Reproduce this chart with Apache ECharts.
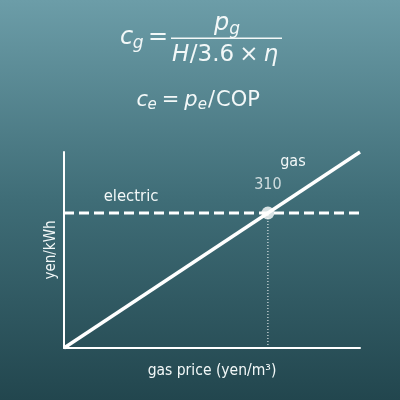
<!DOCTYPE html>
<html><head><meta charset="utf-8">
<script src="https://cdn.jsdelivr.net/npm/echarts@6/dist/echarts.min.js"></script>
<style>html,body{margin:0;padding:0;background:#3d6c76}#c{width:400px;height:400px}</style>
</head><body><div id="c"></div>
<script>
// ---- data ----
const gasPrice = [0, 450];            // yen/m3 (x range of the gas cost line)
const gasCost = [0, 45];              // yen/kWh at those prices
const elecCost = 31;                  // yen/kWh (flat)
const breakEvenPrice = 310;           // yen/m3
const xAxisName = 'gas price (yen/m³)';
const yAxisName = 'yen/kWh';
const seriesNames = ['gas', 'electric'];

const BASE = 'DejaVu Sans';
const W = '#ffffff';
const TXT = '#f3f8f8';

const cv = document.createElement('canvas').getContext('2d');
function mw(font, s) { cv.font = font; return cv.measureText(s).width; }
const hasCond = Math.abs(mw('40px "DejaVu Sans Condensed", monospace', 'electric gas') -
                         mw('40px "DejaVu Sans", monospace', 'electric gas')) > 1 &&
                Math.abs(mw('40px "DejaVu Sans Condensed", monospace', 'electric gas') -
                         mw('40px monospace', 'electric gas')) > 1;
const LF = hasCond ? 'DejaVu Sans Condensed' : BASE;
const LS = hasCond ? 1 : 0.9;   // label size factor

function fontStr(size, it) { return (it ? 'italic ' : '') + size + 'px "' + BASE + '"'; }

// sequential math-like layout: items {s, size, it, dy, pre}
function layout(items, startX, baseline, center) {
  let w = 0;
  items.forEach(o => { w += (o.pre || 0) + mw(fontStr(o.size, o.it), o.s); });
  let x = center ? startX - w / 2 : startX;
  const out = [];
  items.forEach(o => {
    x += (o.pre || 0);
    out.push({type: 'text', x: x, y: baseline + (o.dy || 0) - 0.33 * o.size, silent: true,
      style: {text: o.s, fill: TXT, font: fontStr(o.size, o.it), textAlign: 'left', textVerticalAlign: 'middle'}});
    x += mw(fontStr(o.size, o.it), o.s);
  });
  return out;
}

const graphic = [].concat(
  layout([{s: 'c', size: 24, it: 1}, {s: 'g', size: 17, it: 1, dy: 3, pre: -0.5}, {s: '=', size: 24, pre: 4.5}], 120, 46),
  [{type: 'rect', silent: true, shape: {x: 171, y: 37.6, width: 111, height: 1.5}, style: {fill: TXT}}],
  layout([{s: 'p', size: 24, it: 1}, {s: 'g', size: 17, it: 1, dy: 3.5}], 227, 31.5, true),
  layout([{s: 'H', size: 23, it: 1}, {s: '/3.6', size: 23, pre: 0.5}, {s: '×', size: 23, pre: 5}, {s: 'η', size: 23, it: 1, pre: 5}], 225, 63, true),
  layout([{s: 'c', size: 21, it: 1}, {s: 'e', size: 15, it: 1, dy: 3, pre: -0.5}, {s: '=', size: 21, pre: 5},
          {s: 'p', size: 21, it: 1, pre: 5}, {s: 'e', size: 15, it: 1, dy: 3}, {s: '/', size: 21, pre: 1}, {s: 'COP', size: 21, pre: 1}], 136.5, 107)
);

const chart = echarts.init(document.getElementById('c'), null, {renderer: 'canvas'});
chart.setOption({
  animation: false,
  backgroundColor: {type: 'linear', x: 0, y: 0, x2: 0, y2: 1,
    colorStops: [{offset: 0, color: '#6c9da8'}, {offset: 0.5, color: '#3f6d77'}, {offset: 1, color: '#22464e'}]},
  grid: {left: 64, right: 40, top: 152, bottom: 52, containLabel: false},
  xAxis: {
    type: 'value', min: gasPrice[0], max: gasPrice[1],
    name: xAxisName, nameLocation: 'middle', nameGap: 15,
    nameTextStyle: {color: TXT, fontFamily: LF, fontSize: 15.5 * LS},
    axisLine: {show: true, lineStyle: {color: W, width: 2}},
    axisTick: {show: false}, axisLabel: {show: false}, splitLine: {show: false}
  },
  yAxis: {
    type: 'value', min: gasCost[0], max: gasCost[1],
    name: yAxisName, nameLocation: 'middle', nameGap: 5,
    nameTextStyle: {color: TXT, fontFamily: LF, fontSize: 15 * LS},
    axisLine: {show: true, lineStyle: {color: W, width: 2}},
    axisTick: {show: false}, axisLabel: {show: false}, splitLine: {show: false}
  },
  series: [
    {
      name: seriesNames[0], type: 'line', showSymbol: false, symbol: 'none',
      data: [[gasPrice[0], gasCost[0]], [gasPrice[1], gasCost[1]]],
      lineStyle: {color: W, width: 3.4}, z: 5,
      markPoint: {symbol: 'circle', symbolSize: 0, silent: true,
        data: [{coord: [380, 38], label: {show: true, formatter: seriesNames[0], color: TXT, fontFamily: LF, fontSize: 16 * LS, offset: [-21, -21]}}]}
    },
    {
      name: seriesNames[1], type: 'line', showSymbol: false, symbol: 'none',
      data: [[gasPrice[0], elecCost], [gasPrice[1], elecCost]],
      lineStyle: {color: W, width: 3, type: [10, 5]}, z: 4,
      markPoint: {symbol: 'circle', symbolSize: 0, silent: true,
        data: [{coord: [102, elecCost], label: {show: true, formatter: seriesNames[1], color: TXT, fontFamily: LF, fontSize: 16.5 * LS, offset: [0, -16]}}]}
    },
    {
      type: 'line', showSymbol: false, symbol: 'none',
      data: [[breakEvenPrice, 0], [breakEvenPrice, elecCost]],
      lineStyle: {color: W, width: 1, type: [1, 2]}, z: 3
    },
    {
      type: 'scatter', symbol: 'circle', symbolSize: 13,
      data: [[breakEvenPrice, elecCost]],
      itemStyle: {color: W}, z: 6,
      label: {show: true, position: 'top', distance: 14, formatter: String(breakEvenPrice), color: TXT, fontFamily: LF, fontSize: 16 * LS}
    }
  ],
  graphic: graphic
});
</script></body></html>
